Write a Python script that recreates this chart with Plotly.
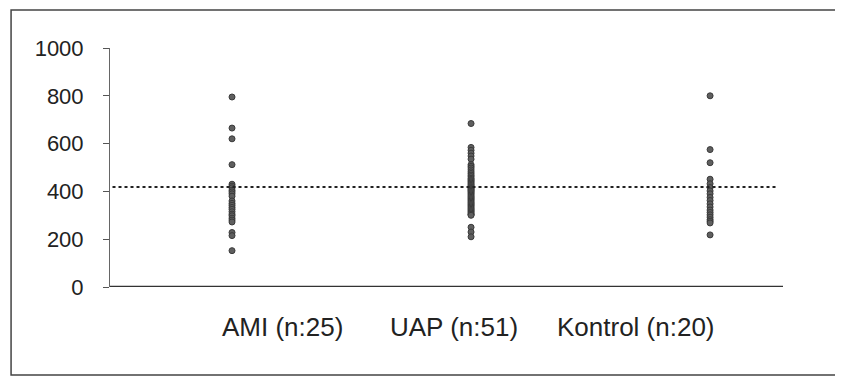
import plotly.graph_objects as go

groups = ["AMI (n:25)", "UAP (n:51)", "Kontrol (n:20)"]
group_pos = [1, 2, 3]
label_pos = [1.21, 1.93, 2.69]

ami = [795, 665, 620, 512, 430, 422, 415, 405, 398, 390, 380, 360, 350, 342, 333, 325,
       315, 305, 298, 288, 280, 272, 228, 215, 152]
uap = [684, 584, 572, 560, 548, 535, 512, 505, 498, 490, 482, 475, 468, 462, 455, 450,
       445, 440, 435, 430, 425, 420, 416, 412, 408, 404, 400, 395, 390, 385, 380, 375,
       370, 365, 360, 355, 350, 345, 340, 335, 330, 325, 320, 315, 310, 305, 303, 300,
       250, 230, 210]
kontrol = [800, 575, 520, 451, 432, 416, 402, 390, 375, 362, 348, 335, 322, 312, 302,
           292, 282, 275, 268, 218]
reference_value = 418

yticks = [0, 200, 400, 600, 800, 1000]

fig = go.Figure()
for pos, vals in zip(group_pos, [ami, uap, kontrol]):
    fig.add_trace(go.Scatter(
        x=[pos] * len(vals), y=vals, mode="markers",
        marker=dict(size=6, color="#5f5f5f", line=dict(color="#3a3a3a", width=1)),
        showlegend=False, hoverinfo="y"))

fig.add_shape(type="line", xref="x", yref="y", x0=0.50, x1=3.285,
              y0=reference_value, y1=reference_value,
              line=dict(color="#222", width=2, dash="dot"))
# x axis line at 0
fig.add_shape(type="line", xref="paper", yref="y", x0=0, x1=1, y0=0, y1=0,
              line=dict(color="#333", width=2.5))
# outer frame
fig.add_shape(type="rect", xref="paper", yref="paper", x0=-0.147, x1=1.0817,
              y0=-0.368, y1=1.159, line=dict(color="#444", width=1.5))

for lp, g in zip(label_pos, groups):
    fig.add_annotation(x=lp, y=-0.167, xref="x", yref="paper", text=g,
                       yanchor="middle", xanchor="center",
                       showarrow=False, font=dict(size=26, color="#222",
                                                  family="Liberation Sans, Arial"))

fig.update_layout(
    width=843, height=379,
    margin=dict(l=102, r=68, t=40, b=100),
    paper_bgcolor="white", plot_bgcolor="white",
    font=dict(family="Liberation Sans, Arial", size=22, color="#222"),
    xaxis=dict(range=[0.4895, 3.305], showticklabels=False, showgrid=False,
               zeroline=False, showline=False, ticks=""),
    yaxis=dict(range=[0, 1000], tickvals=yticks, ticks="outside", ticklen=6,
               tickcolor="#555", showline=True, linecolor="#666", linewidth=1,
               showgrid=False, zeroline=False, ticklabelstandoff=15),
)
fig.write_html("out.html")
